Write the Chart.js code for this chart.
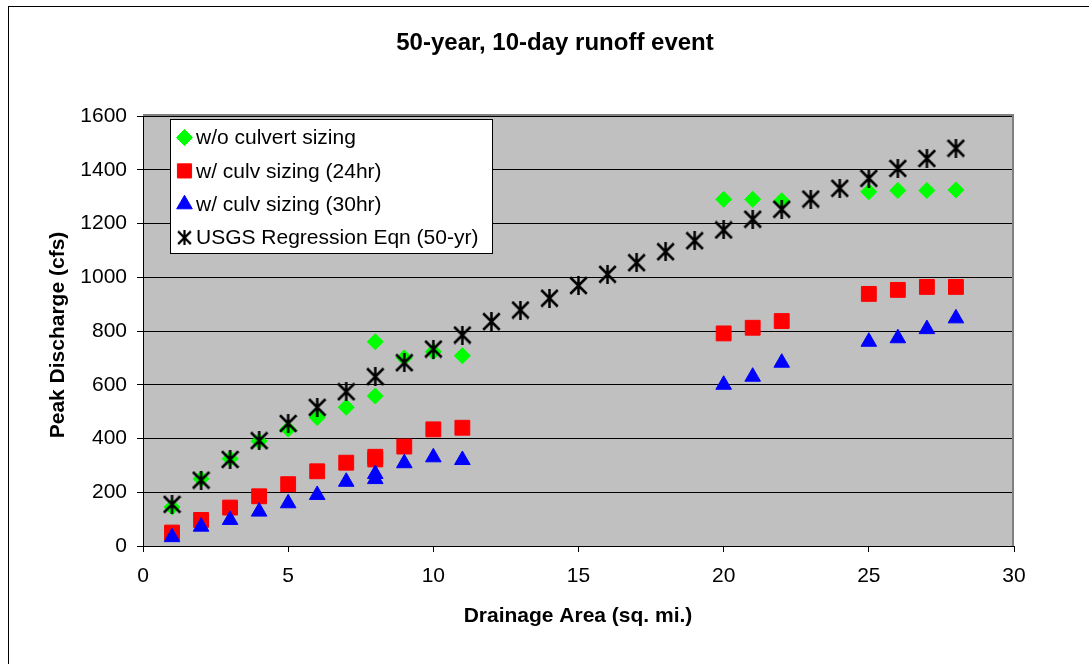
<!DOCTYPE html>
<html>
<head>
<meta charset="utf-8">
<title>50-year, 10-day runoff event</title>
<script src="https://cdn.jsdelivr.net/npm/chart.js@4.4.1/dist/chart.umd.min.js"></script>
<style>
    body { margin: 0; background: #fff; }
    #wrap { width: 1089px; height: 664px; }
</style>
</head>
<body>
<div id="wrap"><canvas id="chart-runoff" width="1089" height="664"></canvas></div>
<script>
const chartTitle = "50-year, 10-day runoff event";
const xTitle = "Drainage Area (sq. mi.)";
const yTitle = "Peak Discharge (cfs)";

const seriesNames = [
    "w/o culvert sizing",
    "w/ culv sizing (24hr)",
    "w/ culv sizing (30hr)",
    "USGS Regression Eqn (50-yr)"
];

// drainage areas of the modelled culverts (two runs at 8 sq. mi.)
const areaModel = [1, 2, 3, 4, 5, 6, 7, 8, 8, 9, 10, 11, 20, 21, 22, 25, 26, 27, 28];
const noCulvert = [145, 250, 325, 390, 435, 478, 516, 558, 760, 700, 723, 708, 1290, 1290, 1285, 1318, 1323, 1323, 1325];
const culv24hr = [50, 97, 143, 185, 230, 278, 310, 322, 332, 370, 434, 440, 791, 812, 837, 938, 953, 964, 964];
const culv30hr = [33, 72, 97, 128, 159, 190, 239, 249, 268, 308, 330, 320, 600, 630, 682, 760, 773, 807, 847];

const areaUsgs = [1, 2, 3, 4, 5, 6, 7, 8, 9, 10, 11, 12, 13, 14, 15, 16, 17, 18, 19, 20, 21, 22, 23, 24, 25, 26, 27, 28];
const usgs50yr = [155, 245, 322, 392, 456, 516, 574, 630, 682, 733, 785, 835, 878, 922, 969, 1011, 1054, 1095, 1136, 1176, 1216, 1253, 1291, 1331, 1368, 1405, 1442, 1480];

function toPoints(xs, ys) {
    return xs.map((x, i) => ({ x: x, y: ys[i] }));
}

function makeAsterisk(size, lineWidth) {
    const c = document.createElement('canvas');
    c.width = size;
    c.height = size;
    const g = c.getContext('2d');
    const m = lineWidth / 2;
    g.strokeStyle = '#000';
    g.lineWidth = lineWidth;
    g.beginPath();
    g.moveTo(m, m);
    g.lineTo(size - m, size - m);
    g.moveTo(size - m, m);
    g.lineTo(m, size - m);
    g.moveTo(size / 2, 0);
    g.lineTo(size / 2, size);
    g.stroke();
    return c;
}

const FONT = "'Liberation Sans', Arial, sans-serif";
Chart.defaults.font.family = FONT;
Chart.defaults.font.size = 21;
Chart.defaults.color = '#000';

const colors = ['#00ff00', '#ff0000', '#0000ff', '#000000'];
const plotStyles = ['rectRot', 'rect', 'triangle', makeAsterisk(19, 2.5)];
const plotRadius = [8, 10.5, 9, 9];
const legendStyles = ['rectRot', 'rect', 'triangle', makeAsterisk(15, 2.2)];
const legendRadius = [8, 10, 9, 8];

// gray plot area, outer frame, title and axis titles
const decorations = {
    id: 'decorations',
    beforeDraw(chart) {
        const ctx = chart.ctx;
        const a = chart.chartArea;
        ctx.save();
        ctx.fillStyle = '#c0c0c0';
        ctx.fillRect(a.left, a.top, a.right - a.left, a.bottom - a.top);
        ctx.strokeStyle = '#000';
        ctx.lineWidth = 1;
        ctx.strokeRect(8.5, 6.5, 1200, 800);
        ctx.fillStyle = '#000';
        ctx.textAlign = 'center';
        ctx.textBaseline = 'middle';
        ctx.font = 'bold 24px ' + FONT;
        ctx.fillText(chartTitle, 555, 43);
        ctx.font = 'bold 21px ' + FONT;
        ctx.fillText(xTitle, 578, 616);
        ctx.translate(58, 335);
        ctx.rotate(-Math.PI / 2);
        ctx.fillText(yTitle, 0, 0);
        ctx.restore();
    },
    beforeDatasetsDraw(chart) {
        const ctx = chart.ctx;
        const a = chart.chartArea;
        ctx.save();
        ctx.strokeStyle = '#808080';
        ctx.lineWidth = 2;
        ctx.beginPath();
        ctx.moveTo(a.left, a.top - 1);
        ctx.lineTo(a.right - 1, a.top - 1);
        ctx.lineTo(a.right - 1, a.bottom);
        ctx.stroke();
        ctx.restore();
    }
};

// boxed legend inside the plot area
const boxLegend = {
    id: 'boxLegend',
    afterDatasetsDraw(chart) {
        const ctx = chart.ctx;
        ctx.save();
        ctx.fillStyle = '#fff';
        ctx.fillRect(170.5, 119.5, 322, 134);
        ctx.strokeStyle = '#000';
        ctx.lineWidth = 1;
        ctx.strokeRect(170.5, 119.5, 322, 134);
        ctx.font = '21px ' + FONT;
        ctx.textAlign = 'left';
        ctx.textBaseline = 'middle';
        for (let i = 0; i < seriesNames.length; ++i) {
            const y = 137.5 + i * 33.4;
            ctx.fillStyle = colors[i];
            ctx.strokeStyle = colors[i];
            Chart.helpers.drawPoint(ctx, {
                pointStyle: legendStyles[i],
                radius: legendRadius[i],
                rotation: 0,
                borderWidth: 1
            }, 184.5, y);
            ctx.fillStyle = '#000';
            ctx.fillText(seriesNames[i], 196, y + 1);
        }
        ctx.restore();
    }
};

const allData = [
    toPoints(areaModel, noCulvert),
    toPoints(areaModel, culv24hr),
    toPoints(areaModel, culv30hr),
    toPoints(areaUsgs, usgs50yr)
];

// later series sit on top, like the spreadsheet draws them
const datasets = seriesNames.map((name, i) => ({
    label: name,
    data: allData[i],
    order: seriesNames.length - i,
    pointStyle: plotStyles[i],
    pointRadius: plotRadius[i],
    pointBackgroundColor: colors[i],
    pointBorderColor: colors[i],
    pointBorderWidth: 1,
    showLine: false,
    clip: false
}));

new Chart(document.getElementById('chart-runoff'), {
    type: 'scatter',
    data: { datasets: datasets },
    options: {
        responsive: false,
        animation: false,
        layout: { padding: { left: 0, right: 75, top: 116, bottom: 0 } },
        plugins: {
            legend: { display: false },
            title: { display: false },
            tooltip: { enabled: false }
        },
        scales: {
            x: {
                type: 'linear',
                min: 0,
                max: 30,
                ticks: { stepSize: 5, padding: 12, callback: v => String(v) },
                grid: { drawOnChartArea: false, color: '#000', tickLength: 6 },
                border: { color: '#000', width: 1 },
                afterFit(scale) { scale.height = 118; }
            },
            y: {
                min: 0,
                max: 1600,
                ticks: { stepSize: 200, padding: 10, callback: v => String(v) },
                grid: { color: '#000', tickLength: 6 },
                border: { color: '#000', width: 1 },
                afterFit(scale) { scale.width = 143; }
            }
        }
    },
    plugins: [decorations, boxLegend]
});
</script>
</body>
</html>
